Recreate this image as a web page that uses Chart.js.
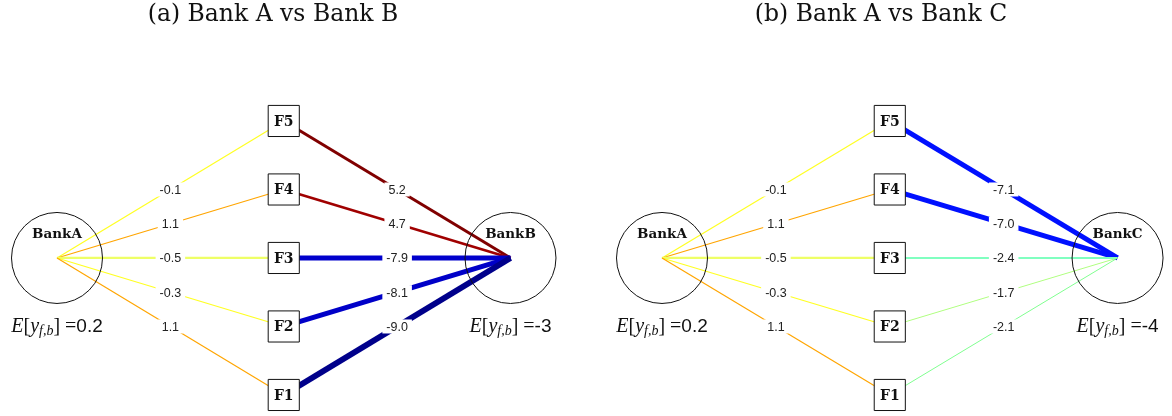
<!DOCTYPE html>
<html>
<head>
<meta charset="utf-8">
<script src="https://cdn.jsdelivr.net/npm/chart.js@4.4.1/dist/chart.umd.min.js"></script>
<style>
  body { margin: 0; background: #fff; width: 1172px; height: 416px; overflow: hidden; }
  canvas { position: absolute; top: 0; }
  #chartA { left: 0; }
  #chartB { left: 586px; }
</style>
</head>
<body>
<canvas id="chartA" width="586" height="416"></canvas>
<canvas id="chartB" width="586" height="416"></canvas>
<script>
// factors listed bottom to top
const factors = ["F1", "F2", "F3", "F4", "F5"];
const bankAWeights = [1.1, -0.3, -0.5, 1.1, -0.1];
const bankBWeights = [-9.0, -8.1, -7.9, 4.7, 5.2];
const bankCWeights = [-2.1, -1.7, -2.4, -7.0, -7.1];
const bankAExpected = "0.2";
const bankBExpected = "-3";
const bankCExpected = "-4";

// edge look per factor
const bankAColors = ["#ffa500", "#ffff22", "#eeff66", "#ffa500", "#ffff22"];
const bankAWidths = [1.2, 1.2, 2.2, 1.2, 1.2];
const bankBColors = ["#00008b", "#0000c8", "#0000cc", "#a00000", "#800000"];
const bankBWidths = [6, 5, 5, 2.5, 3];
const bankCColors = ["#80ff90", "#b0ff80", "#80ffc0", "#0010ff", "#0010ff"];
const bankCWidths = [1, 1, 2, 5, 5];

const SERIF = "'Liberation Serif', 'DejaVu Serif', serif";
const BOLD_SERIF = "'DejaVu Serif', serif";
const SANS = "'Liberation Sans', Arial, sans-serif";

function drawExpected(ctx, cx, cy, value) {
  const parts = [
    { t: "E", f: "italic 20px " + SERIF, dy: 0 },
    { t: "[", f: "20px " + SERIF, dy: 0 },
    { t: "y", f: "italic 20px " + SERIF, dy: 0 },
    { t: "f,b", f: "italic 14px " + SERIF, dy: 5 },
    { t: "]", f: "20px " + SERIF, dy: 0 },
    { t: " =", f: "20px " + SERIF, dy: 0 },
    { t: value, f: "19px " + SANS, dy: 0 },
  ];
  let total = 0;
  parts.forEach((p) => {
    ctx.font = p.f;
    p.w = ctx.measureText(p.t).width;
    total += p.w;
  });
  let x = cx - total / 2;
  ctx.fillStyle = "#111";
  ctx.textAlign = "left";
  ctx.textBaseline = "middle";
  parts.forEach((p) => {
    ctx.font = p.f;
    ctx.fillText(p.t, x, cy + p.dy);
    x += p.w;
  });
}

const netLabels = {
  id: "netLabels",
  afterDatasetsDraw(chart, args, opts) {
    const ctx = chart.ctx;
    const xs = chart.scales.x;
    const ys = chart.scales.y;
    ctx.save();

    // edge weight labels at the middle of each edge
    ctx.font = "12.5px " + SANS;
    ctx.textAlign = "center";
    ctx.textBaseline = "middle";
    opts.edges.forEach((e) => {
      const mx = (xs.getPixelForValue(e.from[0]) + xs.getPixelForValue(e.to[0])) / 2;
      const my = (ys.getPixelForValue(e.from[1]) + ys.getPixelForValue(e.to[1])) / 2;
      const txt = e.value.toFixed(1);
      const w = ctx.measureText(txt).width;
      ctx.fillStyle = "#fff";
      ctx.fillRect(mx - w / 2 - 4, my - 7, w + 8, 14);
      ctx.fillStyle = "#222";
      ctx.fillText(txt, mx, my + 1);
    });

    // factor box labels
    ctx.font = "bold 14px " + BOLD_SERIF;
    ctx.fillStyle = "#111";
    factors.forEach((f, i) => {
      ctx.fillText(f, xs.getPixelForValue(1), ys.getPixelForValue(i + 1) + 1);
    });

    // bank names and expectations
    opts.banks.forEach((b) => {
      const bx = xs.getPixelForValue(b.x);
      const by = ys.getPixelForValue(3);
      ctx.font = "bold 13.5px " + BOLD_SERIF;
      ctx.fillStyle = "#111";
      ctx.textAlign = "center";
      ctx.fillText(b.name, bx, by - 23);
      drawExpected(ctx, bx, ys.getPixelForValue(2), b.expected);
    });

    // panel title
    ctx.font = "23.5px " + BOLD_SERIF;
    ctx.fillStyle = "#111";
    ctx.textAlign = "center";
    ctx.textBaseline = "middle";
    ctx.fillText(opts.title, opts.titleX, 15);
    ctx.restore();
  },
};

function makePanel(canvasId, title, titleX, leftName, rightName, leftW, rightW, leftC, rightC, leftLw, rightLw, leftE, rightE, xMin, xMax) {
  const datasets = [];
  const edges = [];

  // boxes (drawn on top of edges)
  datasets.push({
    data: factors.map((f, i) => ({ x: 1, y: i + 1 })),
    pointStyle: "rect",
    pointRadius: 22,
    backgroundColor: "#fff",
    borderColor: "#111",
    borderWidth: 1,
    order: 0,
  });
  // bank circles
  datasets.push({
    data: [{ x: 0, y: 3 }, { x: 2, y: 3 }],
    pointStyle: "circle",
    pointRadius: 45.5,
    backgroundColor: "rgba(0,0,0,0)",
    borderColor: "#111",
    borderWidth: 1,
    order: 1,
  });

  factors.forEach((f, i) => {
    datasets.push({
      data: [{ x: 0, y: 3 }, { x: 1, y: i + 1 }],
      showLine: true,
      pointRadius: 0,
      borderColor: leftC[i],
      borderWidth: leftLw[i],
      order: 2,
    });
    edges.push({ from: [0, 3], to: [1, i + 1], value: leftW[i] });
    datasets.push({
      data: [{ x: 1, y: i + 1 }, { x: 2, y: 3 }],
      showLine: true,
      pointRadius: 0,
      borderColor: rightC[i],
      borderWidth: rightLw[i],
      order: 2,
    });
    edges.push({ from: [1, i + 1], to: [2, 3], value: rightW[i] });
  });

  return new Chart(document.getElementById(canvasId), {
    type: "scatter",
    data: { datasets },
    options: {
      responsive: false,
      animation: false,
      events: [],
      layout: { padding: 0, autoPadding: false },
      scales: {
        x: { type: "linear", display: false, min: xMin, max: xMax },
        y: { type: "linear", display: false, min: 0.693, max: 6.766 },
      },
      plugins: {
        legend: { display: false },
        tooltip: { enabled: false },
        netLabels: {
          title,
          titleX,
          edges,
          banks: [
            { x: 0, name: leftName, expected: leftE },
            { x: 2, name: rightName, expected: rightE },
          ],
        },
      },
    },
    plugins: [netLabels],
  });
}

makePanel("chartA", "(a) Bank A vs Bank B", 273, "BankA", "BankB",
  bankAWeights, bankBWeights, bankAColors, bankBColors, bankAWidths, bankBWidths,
  bankAExpected, bankBExpected, -0.2514, 2.333);
makePanel("chartB", "(b) Bank A vs Bank C", 295, "BankA", "BankC",
  bankAWeights, bankCWeights, bankAColors, bankCColors, bankAWidths, bankCWidths,
  bankAExpected, bankCExpected, -0.3337, 2.239);
</script>
</body>
</html>
